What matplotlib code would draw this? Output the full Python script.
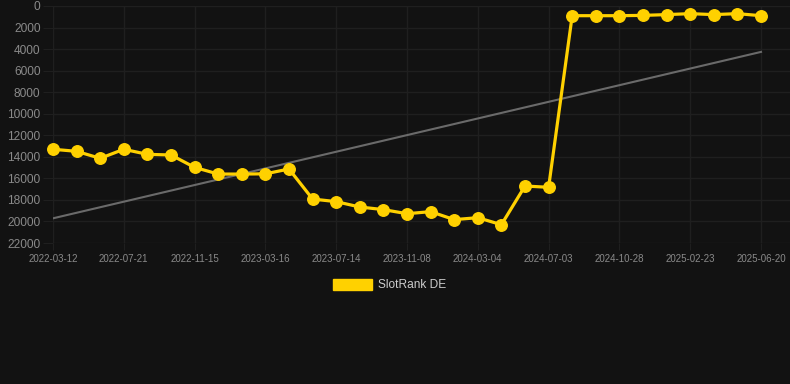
import numpy as np
import matplotlib
matplotlib.use("Agg")
import matplotlib.pyplot as plt
from matplotlib.patches import Rectangle

# SlotRank DE ranking values (lower = better)
rank = [13300, 13490, 14140, 13300, 13770, 13830, 14980, 15600, 15600, 15580,
        15130, 17920, 18160, 18660, 18900, 19280, 19090, 19830, 19650, 20300,
        16710, 16830, 900, 900, 900, 870, 800, 710, 800, 710, 900]
# dates shown on the x axis (every third point)
tick_labels = ["2022-03-12", "2022-07-21", "2022-11-15", "2023-03-16", "2023-07-14",
               "2023-11-08", "2024-03-04", "2024-07-03", "2024-10-28", "2025-02-23",
               "2025-06-20"]
y_ticks = [0, 2000, 4000, 6000, 8000, 10000, 12000, 14000, 16000, 18000, 20000, 22000]

bg = "#121212"
grid_c = "#1f1f1f"
txt_c = "#8a8a8a"
yellow = "#FFD100"

plt.rcParams["font.family"] = ["Liberation Sans", "DejaVu Sans"]

fig = plt.figure(figsize=(7.9, 3.84), dpi=100, facecolor=bg)
ax = fig.add_axes([53 / 790, 1 - 243 / 384, (790 - 53) / 790, 237 / 384])
ax.set_facecolor(bg)

x = np.arange(len(rank))
# linear trend of the series
k, b = np.polyfit(x, rank, 1)
ax.plot(x, k * x + b, color="#6a6a6a", lw=1.5, zorder=2)
ax.plot(x, rank, color=yellow, lw=2.3, marker="o", ms=8.3, zorder=3, clip_on=False)

ax.set_ylim(22000, 0)
ax.set_xlim(0, 30 + 29 / 23.6)
ax.set_yticks(y_ticks)
ax.set_yticklabels([str(v) for v in y_ticks])
ax.set_xticks(np.arange(0, len(rank), 3))
ax.set_xticklabels(tick_labels)

for s in ax.spines.values():
    s.set_visible(False)
ax.grid(True, color=grid_c, lw=1)
ax.tick_params(axis="y", colors=grid_c, labelcolor=txt_c, labelsize=8.6, length=7, pad=2)
ax.tick_params(axis="x", colors=grid_c, labelcolor=txt_c, labelsize=7, length=5, pad=3)

# legend
fig.patches.append(Rectangle((333 / 790, 1 - 290 / 384), 39 / 790, 11 / 384,
                             transform=fig.transFigure, color=yellow))
fig.text(378 / 790, 1 - 285 / 384, "SlotRank DE", color="#cccccc", fontsize=8.6,
         va="center", ha="left")

fig.savefig("out.png", dpi=100, facecolor=bg)
